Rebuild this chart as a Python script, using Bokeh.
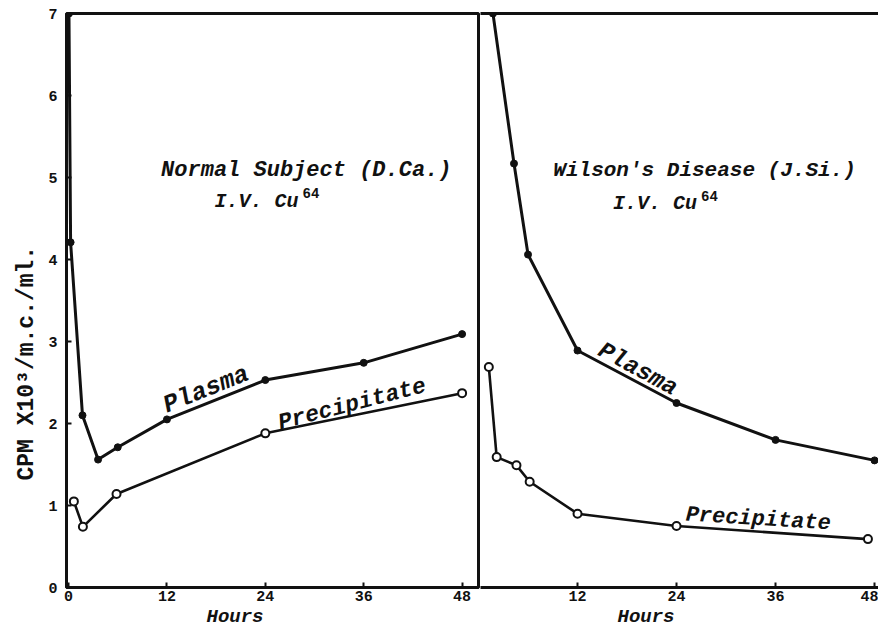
import math
from bokeh.plotting import figure
from bokeh.layouts import row
from bokeh.models import Range1d, Label, FixedTicker, LinearAxis, Title
from bokeh.embed import file_html
from bokeh.resources import INLINE

# ---------------- data ----------------
hour_ticks_left = [0, 12, 24, 36, 48]
hour_ticks_right = [12, 24, 36, 48]
cpm_ticks = [0, 1, 2, 3, 4, 5, 6, 7]

# Normal subject (D.Ca.)
normal_plasma_hours = [0.05, 0.25, 1.7, 3.6, 6.0, 12.0, 24.0, 36.0, 48.0]
normal_plasma_cpm = [7.0, 4.21, 2.10, 1.56, 1.71, 2.05, 2.53, 2.74, 3.09]
normal_precip_hours = [0.65, 1.75, 5.85, 24.0, 48.0]
normal_precip_cpm = [1.05, 0.74, 1.14, 1.88, 2.37]

# Wilson's disease (J.Si.)
wilson_plasma_hours = [1.75, 4.3, 6.0, 12.0, 24.0, 36.0, 48.0]
wilson_plasma_cpm = [7.0, 5.17, 4.06, 2.89, 2.25, 1.80, 1.55]
wilson_precip_hours = [1.25, 2.2, 4.6, 6.2, 12.0, 24.0, 47.2]
wilson_precip_cpm = [2.69, 1.59, 1.49, 1.29, 0.90, 0.75, 0.59]

y_label = "CPM X10\u00b3/m.c./ml."
x_label = "Hours"
title_left = "Normal Subject (D.Ca.)"
title_right = "Wilson's Disease (J.Si.)"
sub_text = "I.V. Cu"
sup_text = "64"

FONT = "Liberation Mono"
INK = "#111111"


def style_axes(p, xticks):
    p.xgrid.visible = False
    p.ygrid.visible = False
    p.background_fill_color = "white"
    p.border_fill_color = "white"
    ax = p.xaxis[0]
    ax.ticker = FixedTicker(ticks=xticks)
    ax.axis_line_width = 3
    ax.axis_line_color = INK
    ax.major_tick_in = 5
    ax.major_tick_out = 0
    ax.major_tick_line_width = 2
    ax.major_tick_line_color = INK
    ax.minor_tick_in = 0
    ax.minor_tick_out = 0
    ax.major_label_text_font = FONT
    ax.major_label_text_font_style = "bold"
    ax.major_label_text_font_size = "15px"
    ax.major_label_text_color = INK
    ax.major_label_standoff = 3


def add_label(p, x, y, text, size, angle=0.0, align="center", baseline="middle",
              style="bold italic", x_offset=0, y_offset=0):
    p.add_layout(Label(x=x, y=y, text=text, text_font=FONT, text_font_size=size,
                       text_font_style=style, text_color=INK, angle=angle,
                       text_align=align, text_baseline=baseline,
                       x_offset=x_offset, y_offset=y_offset))


def add_hours(p, offset):
    p.add_layout(Title(text=x_label, align="left", offset=offset, standoff=0,
                       text_font=FONT, text_font_size="19px",
                       text_font_style="bold italic", text_color=INK), "below")


def draw_series(p, hp, vp, hq, vq):
    p.line(hp, vp, line_color=INK, line_width=3)
    p.scatter(hp, vp, marker="circle", size=7, fill_color=INK, line_color=INK)
    p.line(hq, vq, line_color=INK, line_width=2.6)
    p.scatter(hq, vq, marker="circle", size=8, fill_color="white",
              line_color=INK, line_width=2)


# ---------------- left panel ----------------
left = figure(frame_width=412, frame_height=574,
              x_range=Range1d(-0.25, 50.0), y_range=Range1d(0, 7),
              output_backend="svg", toolbar_location=None,
              min_border_left=66, min_border_right=2,
              min_border_top=13, min_border_bottom=39)
style_axes(left, hour_ticks_left)
yax = left.yaxis[0]
yax.ticker = FixedTicker(ticks=cpm_ticks)
yax.axis_line_width = 3
yax.axis_line_color = INK
yax.major_tick_in = 5
yax.major_tick_out = 0
yax.major_tick_line_width = 2
yax.major_tick_line_color = INK
yax.minor_tick_in = 0
yax.minor_tick_out = 0
yax.major_label_text_font = FONT
yax.major_label_text_font_style = "bold"
yax.major_label_text_font_size = "15px"
yax.major_label_text_color = INK
yax.major_label_standoff = 9
left.outline_line_color = INK
left.outline_line_width = 3
left.outline_line_alpha = 1.0

left.add_layout(Title(text=y_label, align="left", offset=107, standoff=12,
                      text_font=FONT, text_font_size="23px", text_font_style="bold",
                      text_color=INK), "left")
add_hours(left, 140)

draw_series(left, normal_plasma_hours, normal_plasma_cpm,
            normal_precip_hours, normal_precip_cpm)

add_label(left, 29.0, 5.09, title_left, "22px")
add_label(left, 17.8, 4.71, sub_text, "20px", align="left", baseline="alphabetic")
add_label(left, 17.8, 4.71, sup_text, "14px", align="left", baseline="alphabetic",
          style="bold", x_offset=7 * 12 + 4, y_offset=8)
add_label(left, 16.8, 2.41, "Plasma", "25px", angle=math.radians(22))
add_label(left, 34.6, 2.23, "Precipitate", "23px", angle=math.radians(14.5))

# ---------------- right panel ----------------
right = figure(frame_width=398, frame_height=574,
               x_range=Range1d(0.24, 48.48), y_range=Range1d(0, 7),
               output_backend="svg", toolbar_location=None,
               y_axis_location=None,
               min_border_left=0, min_border_right=0,
               min_border_top=13, min_border_bottom=39)
style_axes(right, hour_ticks_right)
right.outline_line_color = None
top_axis = LinearAxis(ticker=FixedTicker(ticks=[]), axis_line_width=3,
                      axis_line_color=INK, major_tick_in=0, major_tick_out=0,
                      minor_tick_in=0, minor_tick_out=0,
                      major_label_text_font_size="0px", major_label_standoff=0)
right.add_layout(top_axis, "above")
add_hours(right, 137)

draw_series(right, wilson_plasma_hours, wilson_plasma_cpm,
            wilson_precip_hours, wilson_precip_cpm)

add_label(right, 27.4, 5.09, title_right, "21px")
add_label(right, 16.3, 4.68, sub_text, "20px", align="left", baseline="alphabetic")
add_label(right, 16.3, 4.68, sup_text, "14px", align="left", baseline="alphabetic",
          style="bold", x_offset=7 * 12 + 4, y_offset=8)
add_label(right, 19.3, 2.66, "Plasma", "24px", angle=math.radians(-28.5))
add_label(right, 33.9, 0.83, "Precipitate", "22px", angle=math.radians(-3.5))

layout = row(left, right)
open("out.html", "w").write(file_html(layout, INLINE))
